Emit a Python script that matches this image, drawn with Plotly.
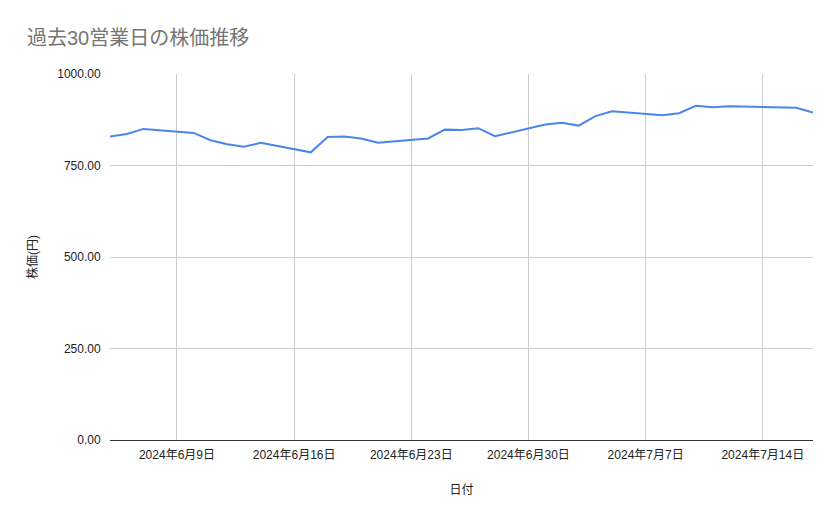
import plotly.graph_objects as go

# 過去30営業日 (7/15 海の日は休場)
DATES = [
    "2024-06-05", "2024-06-06", "2024-06-07",
    "2024-06-10", "2024-06-11", "2024-06-12", "2024-06-13", "2024-06-14",
    "2024-06-17", "2024-06-18", "2024-06-19", "2024-06-20", "2024-06-21",
    "2024-06-24", "2024-06-25", "2024-06-26", "2024-06-27", "2024-06-28",
    "2024-07-01", "2024-07-02", "2024-07-03", "2024-07-04", "2024-07-05",
    "2024-07-08", "2024-07-09", "2024-07-10", "2024-07-11", "2024-07-12",
    "2024-07-16", "2024-07-17",
]
PRICES = [
    829, 836, 850,
    839, 819, 808, 801, 812,
    786, 828, 829, 824, 812,
    824, 848, 847, 852, 830,
    862, 867, 859, 885, 898,
    887, 893, 913, 909, 912,
    908, 895,
]
Y_TICKS = [0, 250, 500, 750, 1000]

FONT = "Arial, 'Liberation Sans', 'Noto Sans CJK JP', sans-serif"

fig = go.Figure()
fig.add_trace(go.Scatter(
    x=DATES,
    y=PRICES,
    mode="lines",
    line=dict(color="#4a86e8", width=2),
    showlegend=False,
))

# the page adds an 8px body margin, so margins are shifted by that
fig.update_layout(
    width=839,
    height=519,
    margin=dict(l=102, r=34, t=66, b=87),
    paper_bgcolor="white",
    plot_bgcolor="white",
    font=dict(family=FONT, size=12, color="#222222"),
    title=dict(
        text="過去30営業日の株価推移",
        x=19 / 839, xanchor="left",
        y=1 - 30 / 519, yanchor="middle",
        font=dict(size=20, color="#757575"),
    ),
    xaxis=dict(
        type="date",
        range=[DATES[0], DATES[-1]],
        tick0="2024-06-09",
        dtick=7 * 24 * 3600 * 1000,
        tickformat="%Y年%-m月%-d日",
        showgrid=True,
        gridcolor="#cccccc",
        ticks="outside",
        ticklen=4,
        tickcolor="white",
        showline=False,
        zeroline=False,
        title=dict(text="日付", font=dict(size=12, color="#222222"), standoff=24),
    ),
    yaxis=dict(
        range=[0, 1000],
        tickvals=Y_TICKS,
        tickformat=".2f",
        showgrid=True,
        gridcolor="#cccccc",
        zeroline=True,
        zerolinecolor="#333333",
        zerolinewidth=1,
        ticks="outside",
        ticklen=6,
        tickcolor="white",
        title=dict(text="株価(円)", font=dict(size=12, color="#222222"), standoff=17),
    ),
)

fig.write_html("out.html")
